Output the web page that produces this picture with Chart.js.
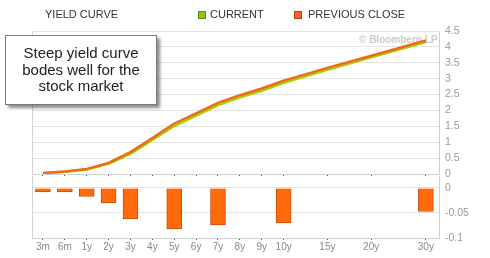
<!DOCTYPE html>
<html>
<head>
<meta charset="utf-8">
<script src="https://cdn.jsdelivr.net/npm/chart.js@4/dist/chart.umd.min.js"></script>
<style>
    html, body { margin: 0; padding: 0; background: #fff; }
    #wrap { position: relative; width: 490px; height: 258px; overflow: hidden; font-family: Arial, "Liberation Sans", sans-serif; }
    #wrap canvas { position: absolute; left: 0; }
    .lbl { position: absolute; font-size: 11px; color: #333; line-height: 13px; white-space: nowrap; }
    .sw { position: absolute; width: 6px; height: 6px; }
    #mark { position: absolute; left: 359px; top: 34px; font-size: 10px; color: #cdcdcd; font-weight: bold; }
    #note { position: absolute; left: 5px; top: 35px; width: 150px; height: 68px; background: #fff;
        border: 1px solid #7a7a7a; box-shadow: 3px 3px 3px rgba(0,0,0,0.45);
        font-size: 15px; line-height: 16.5px; color: #222; text-align: center;
        display: flex; align-items: center; justify-content: center; z-index: 5; }
</style>
</head>
<body>
<div id="wrap">
    <div id="mark">© Bloomberg LP</div>
    <canvas id="curveChart" width="490" height="180" style="top:0"></canvas>
    <canvas id="diffChart" width="490" height="84" style="top:174px"></canvas>
    <div class="lbl" style="left:45px;top:8px">YIELD CURVE</div>
    <div class="sw" style="left:198px;top:11px;background:#8dc21f;border:1px solid #5f8a10"></div>
    <div class="lbl" style="left:210px;top:8px">CURRENT</div>
    <div class="sw" style="left:294px;top:11px;background:#f26522;border:1px solid #b5430f"></div>
    <div class="lbl" style="left:308px;top:8px">PREVIOUS CLOSE</div>
    <div id="note">Steep yield curve<br>bodes well for the<br>stock market</div>
</div>
<script>
const tenors = ['3m', '6m', '1y', '2y', '3y', '4y', '5y', '6y', '7y', '8y', '9y', '10y', '15y', '20y', '30y'];
// slot of each tenor on the x scale
const tenorSlot = [0, 1, 2, 3, 4, 5, 6, 7, 8, 9, 10, 11, 13, 15, 17.5];
const currentYield = [0.02, 0.07, 0.14, 0.32, 0.63, 1.07, 1.51, 1.84, 2.17, 2.41, 2.62, 2.87, 3.28, 3.67, 4.15];
const previousYield = [0.03, 0.08, 0.16, 0.35, 0.69, 1.13, 1.59, 1.91, 2.24, 2.48, 2.69, 2.94, 3.34, 3.72, 4.20];
const yieldChange = [-0.008, -0.008, -0.017, -0.03, -0.062, null, -0.082, null, -0.074, null, null, -0.07, null, null, -0.047];
const yieldTicks = [0, 0.5, 1, 1.5, 2, 2.5, 3, 3.5, 4, 4.5];
const changeTicks = [0, -0.05, -0.1];

const pts = arr => tenorSlot.map((x, i) => ({ x: x, y: arr[i] }));

const leftEdge = {
    id: 'leftEdge',
    afterDraw(chart) {
        const ctx = chart.ctx, a = chart.chartArea;
        ctx.save();
        ctx.strokeStyle = '#d4d4d4';
        ctx.lineWidth = 1;
        ctx.beginPath();
        ctx.moveTo(Math.round(a.left) + 0.5, a.top);
        ctx.lineTo(Math.round(a.left) + 0.5, a.bottom);
        ctx.stroke();
        ctx.restore();
    }
};

const tickFont = { family: 'Arial, "Liberation Sans"', size: 10.5 };

const xBase = {
    type: 'linear',
    min: -0.5,
    max: 18.1,
    offset: false,
    afterBuildTicks: s => { s.ticks = tenorSlot.map(v => ({ value: v })); },
    grid: { drawOnChartArea: false, drawTicks: true, tickLength: 2, tickColor: '#555', offset: false },
    border: { display: true, color: '#cfcfcf' }
};

const yBase = {
    position: 'right',
    grid: { color: '#e3e3e3', drawTicks: false },
    border: { display: true, color: '#cfcfcf' },
    ticks: { color: '#999', padding: 6, font: tickFont, callback: v => String(v) }
};

function fixY(s) {
    s.width = 51;
    s.paddingTop = 0;
    s.paddingBottom = 0;
}

function fixX(h) {
    return s => {
        s.height = h;
        s.paddingLeft = 0;
        s.paddingRight = 0;
    };
}

new Chart(document.getElementById('curveChart'), {
    type: 'line',
    data: {
        datasets: [{
            label: 'PREVIOUS CLOSE',
            data: pts(previousYield),
            borderColor: '#ee6a1c',
            borderWidth: 2.5,
            pointRadius: 0,
            order: 0
        }, {
            label: 'CURRENT',
            data: pts(currentYield),
            borderColor: '#a6d000',
            borderWidth: 2.5,
            pointRadius: 0,
            order: 1
        }]
    },
    options: {
        responsive: false,
        animation: false,
        layout: { padding: { left: 32, top: 31 } },
        plugins: { legend: { display: false }, tooltip: { enabled: false } },
        scales: {
            x: Object.assign({}, xBase, {
                ticks: { display: false },
                afterFit: fixX(6)
            }),
            y: Object.assign({}, yBase, {
                min: 0,
                max: 4.5,
                afterBuildTicks: s => { s.ticks = yieldTicks.map(v => ({ value: v })); },
                afterFit: fixY
            })
        }
    },
    plugins: [leftEdge]
});

new Chart(document.getElementById('diffChart'), {
    type: 'bar',
    data: {
        datasets: [{
            label: 'CHANGE',
            data: pts(yieldChange),
            backgroundColor: '#ff6a0a',
            borderColor: '#c8500a',
            borderWidth: 1,
            barThickness: 15
        }]
    },
    options: {
        responsive: false,
        animation: false,
        layout: { padding: { left: 32, top: 2 } },
        plugins: { legend: { display: false }, tooltip: { enabled: false } },
        scales: {
            x: Object.assign({}, xBase, {
                afterFit: fixX(20),
                ticks: {
                    color: '#888',
                    padding: 1,
                    maxRotation: 0,
                    autoSkip: false,
                    font: { family: 'Arial, "Liberation Sans"', size: 10 },
                    callback: v => tenors[tenorSlot.indexOf(v)]
                }
            }),
            y: Object.assign({}, yBase, {
                min: -0.1,
                max: 0.024,
                afterBuildTicks: s => { s.ticks = changeTicks.map(v => ({ value: v })); },
                afterFit: fixY
            })
        }
    },
    plugins: [leftEdge]
});
</script>
</body>
</html>
